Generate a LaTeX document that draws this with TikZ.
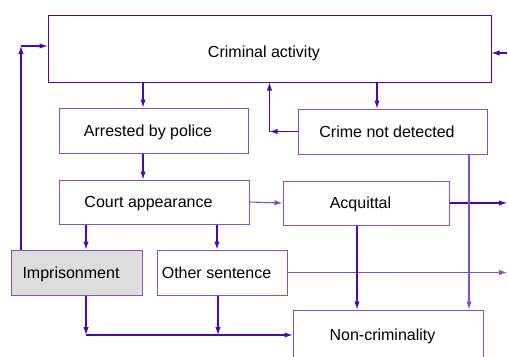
\documentclass[tikz,border=0pt]{standalone}
\usepackage{fontspec}
\setmainfont{Liberation Sans}
\usepackage{tikz}
\usetikzlibrary{arrows.meta,positioning}
\definecolor{linecol}{RGB}{78,8,165}
\definecolor{boxcol}{RGB}{128,84,198}
\definecolor{prisongray}{RGB}{221,221,221}
\tikzset{
  basic/.style  = {draw=boxcol, line width=1pt, rectangle, inner sep=0pt,
                   text depth=0pt, font=\fontsize{16}{19}\selectfont,
                   execute at end node={\hspace*{11pt}}},
  top/.style    = {basic, draw=linecol, minimum width=443pt, minimum height=67pt,
                   text height=18.5pt},
  stage/.style  = {basic, minimum width=189pt, minimum height=45pt},
  sentence/.style = {basic, minimum width=130pt, minimum height=45pt},
  arr/.style    = {draw=linecol, line width=1.1pt, -{Latex[length=8pt,width=5.5pt]}},
  soft/.style   = {arr, draw=boxcol}
}

\begin{document}
\begin{tikzpicture}[x=1pt,y=-1pt]
\useasboundingbox (0,0) rectangle (508,356);

% the boxes
\node[top] (crime) at (269.5,48.5) {Criminal activity};
\node[stage] (arrest) at (153.5,130.5) {Arrested by police};
\node[stage] (undet) at (392.5,131.5) {Crime not detected};
\node[stage, minimum width=190pt, minimum height=44pt] (court) at (154,202) {Court appearance};
\node[stage, minimum width=166pt, minimum height=44pt] (acquit) at (366,203) {Acquittal};
\node[sentence, minimum width=131pt, fill=prisongray] (prison) at (76.5,272.5) {Imprisonment};
\node[sentence] (other) at (222,272.5) {Other sentence};
\node[stage, minimum width=190pt, minimum height=50pt] (noncrim) at (388,335) {Non-criminality};

% free ends and corners
\coordinate (redge) at (507,0);
\coordinate (undetcorner) at (crime.south |- undet.west);
\coordinate (prisoncorner) at (21,46);
\coordinate (prisonfoot) at (21,0 |- prison.north);
\coordinate (join) at ([xshift=9.5pt]prison.south |- noncrim.west);

% down the main line
\draw[arr] ([xshift=-10.5pt]arrest.north |- crime.south) -- ([xshift=-10.5pt]arrest.north);
\draw[arr] ([xshift=-10.5pt]arrest.south) -- ([xshift=-10.5pt]arrest.south |- court.north);
\draw[arr] ([xshift=-15.5pt]undet.north |- crime.south) -- ([xshift=-15.5pt]undet.north);
\draw[arr] ([xshift=-68pt]court.south) -- ([xshift=-68pt]court.south |- prison.north);
\draw[arr] ([xshift=63pt]court.south) -- ([xshift=63pt]court.south |- other.north);
\draw[soft] (court.east) -- (acquit.west);

% back to criminal activity
\draw[arr] (undet.west) -- (undetcorner);
\draw[arr] (undetcorner) -- (crime.south);
\draw[arr] (prisonfoot) -- (prisoncorner);
\draw[arr] (prisoncorner) -- (crime.west |- prisoncorner);
\draw[arr] (redge |- 0,53) -- (crime.east |- 0,53);

% out of the picture on the right
\draw[arr] (acquit.east) -- (redge |- acquit.east);
\draw[soft] (other.east) -- (redge |- other.east);

% into non-criminality
\draw[arr] ([xshift=-9pt]acquit.south) -- ([xshift=-9pt]acquit.south |- noncrim.north);
\draw[soft] ([xshift=76.5pt]undet.south) -- ([xshift=76.5pt]undet.south |- noncrim.north);
\draw[arr] ([xshift=9.5pt]prison.south) -- (join);
\draw[arr] ([xshift=-4pt]other.south) -- ([xshift=-4pt]other.south |- join);
\draw[arr] (join) -- (noncrim.west);
\end{tikzpicture}
\end{document}
